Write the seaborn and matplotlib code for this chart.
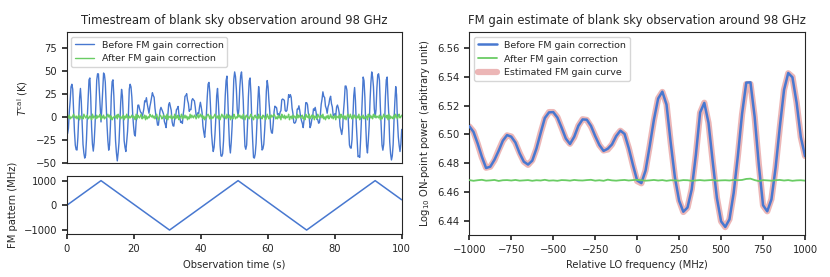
import numpy as np
import matplotlib
matplotlib.use("Agg")
import matplotlib.pyplot as plt
import seaborn as sns

# relative LO frequency grid of the gain curve (MHz)
FREQ_STEP_MHZ = 25
GRID_FREQ_MHZ = list(range(-1000, 1001, FREQ_STEP_MHZ))

# estimated FM gain curve, log10 ON-point power, read at every 25 MHz
GAIN_LOG10 = [
    6.5055, 6.5020, 6.4935, 6.4840, 6.4768, 6.4775, 6.4820, 6.4890, 6.4955, 6.4993,
    6.4985, 6.4940, 6.4870, 6.4810, 6.4788, 6.4820, 6.4900, 6.5010, 6.5110, 6.5155,
    6.5155, 6.5120, 6.5045, 6.4970, 6.4935, 6.4980, 6.5060, 6.5105, 6.5100, 6.5055,
    6.4990, 6.4925, 6.4888, 6.4895, 6.4930, 6.4990, 6.5025, 6.5000, 6.4905, 6.4785,
    6.4675, 6.4660, 6.4750, 6.4920, 6.5100, 6.5250, 6.5295, 6.5210, 6.4940, 6.4700,
    6.4540, 6.4460, 6.4490, 6.4620, 6.4860, 6.5150, 6.5220, 6.5080, 6.4810, 6.4560,
    6.4395, 6.4355, 6.4410, 6.4590, 6.4850, 6.5140, 6.5350, 6.5350, 6.5120, 6.4790,
    6.4505, 6.4465, 6.4550, 6.4770, 6.5050, 6.5310, 6.5425, 6.5400, 6.5220, 6.4980,
    6.4850,
]

# residual after correction (units of 1e-4 in log10 power), same grid
AFTER_RESID_1E4 = [
    2, -3, 1, 4, -2, 0, 3, -4, 1, 2,
    -1, 3, -2, 0, 2, -3, 1, -1, 4, -2,
    0, -3, 2, 1, -2, 3, 0, -1, 2, 4,
    -2, 1, -3, 5, 0, -2, 1, 3, -1, 2,
    4, 1, -2, 0, 3, -1, 2, -3, 1, 0,
    -2, 2, 1, -3, 0, 2, -1, 1, 3, -2,
    0, 1, -1, 3, 1, 3, 10, 12, 2, -5,
    2, 0, -2, 1, 3, -1, 2, -3, 0, 1,
    -2,
]
AFTER_LEVEL = 6.468

# FM sweep turning points (MHz) over the observation
FM_TURNS_MHZ = [0, 1000, -1000, 1000, -1000, 1000, 225]
OBS_DURATION_S = 100

# conversion of log10 power to calibrated temperature
K_PER_DEX = 870.0
V_ZERO = 6.4877

# timestream noise, one digit per sample, (d - 4) K
TS_NOISE_DIGITS = "".join([
    "4536243" "5743524" "6153427" "5346235" "4173542" "6354715" "3624357" "4625134",
    "5362745" "2436153" "7425346" "3541726" "4357243" "6152437" "5463524" "7314652",
    "3645271" "5436243" "7253614" "4725363" "5142736" "4365247" "3574625" "1436752",
    "6243574" "3526147" "5364273" "4615327" "5243746" "3527415" "6342573" "4156342",
    "7354264" "5137426" "3645752" "4263517" "4362534" "7145263" "5427364" "3562417",
    "4537246" "3615427" "5346372" "4153624" "7352461" "5436274" "3625147" "5374263",
    "6425371" "4536243" "5174635" "2746354" "3615247" "4536172" "5342637" "4257346",
])

sns.set_theme(style="ticks", palette="muted")
plt.rcParams.update({
    "font.family": ["DejaVu Sans"],
    "font.size": 7.2,
    "axes.titlesize": 8.4,
    "axes.labelsize": 7.2,
    "xtick.labelsize": 7.2,
    "ytick.labelsize": 7.2,
    "legend.fontsize": 6.8,
    "xtick.major.size": 3.5,
    "ytick.major.size": 3.5,
    "axes.linewidth": 0.8,
})
blue, green, red = "#4878d0", "#6acc64", "#d65f5f"

# walk the FM sweep over the frequency grid
sweep = [FM_TURNS_MHZ[0]]
for a, b in zip(FM_TURNS_MHZ[:-1], FM_TURNS_MHZ[1:]):
    step = FREQ_STEP_MHZ if b > a else -FREQ_STEP_MHZ
    sweep += list(range(a + step, b + step, step))
sweep = np.array(sweep)
idx = (sweep - GRID_FREQ_MHZ[0]) // FREQ_STEP_MHZ
t = np.linspace(0, OBS_DURATION_S, len(sweep))

gain = np.array(GAIN_LOG10)
resid = np.array(AFTER_RESID_1E4) * 1e-4
noise = np.array([int(c) - 4 for c in TS_NOISE_DIGITS[:len(sweep)]], dtype=float)
ts_before = K_PER_DEX * (gain[idx] - V_ZERO) + noise
ts_after = noise

fig = plt.figure(figsize=(8.3, 2.77), dpi=100)
ax_ts = fig.add_axes([0.0804, 0.4105, 0.4036, 0.473])
ax_fm = fig.add_axes([0.0804, 0.1552, 0.4036, 0.2105], sharex=ax_ts)
ax_g = fig.add_axes([0.5654, 0.1516, 0.4045, 0.7318])

sns.lineplot(x=t, y=ts_before, ax=ax_ts, color=blue, lw=1.0, label="Before FM gain correction")
sns.lineplot(x=t, y=ts_after, ax=ax_ts, color=green, lw=1.0, label="After FM gain correction")
ax_ts.set_ylim(-50, 91.5)
ax_ts.set_yticks([-50, -25, 0, 25, 50, 75])
ax_ts.set_ylabel(r"$T^{\rm cal}$ (K)")
ax_ts.set_title("Timestream of blank sky observation around 98 GHz")
ax_ts.tick_params(axis="x", bottom=False, labelbottom=False)
ax_ts.legend(loc="upper left")

sns.lineplot(x=t, y=sweep, ax=ax_fm, color=blue, lw=1.1)
ax_fm.set_xlim(0, 100)
ax_fm.set_ylim(-1160, 1200)
ax_fm.set_yticks([-1000, 0, 1000])
ax_fm.set_xlabel("Observation time (s)")
ax_fm.set_ylabel("FM pattern (MHz)")

freq = np.array(GRID_FREQ_MHZ)
sns.lineplot(x=freq, y=gain + resid, ax=ax_g, color=blue, lw=1.8, zorder=3,
             label="Before FM gain correction")
sns.lineplot(x=freq, y=AFTER_LEVEL + resid, ax=ax_g, color=green, lw=1.3, zorder=4,
             label="After FM gain correction")
sns.lineplot(x=freq, y=gain, ax=ax_g, color=red, lw=4.5, alpha=0.45, zorder=2,
             label="Estimated FM gain curve")
ax_g.set_xlim(-1000, 1000)
ax_g.set_xticks([-1000, -750, -500, -250, 0, 250, 500, 750, 1000])
ax_g.set_ylim(6.43, 6.571)
ax_g.set_yticks([6.44, 6.46, 6.48, 6.50, 6.52, 6.54, 6.56])
ax_g.set_xlabel("Relative LO frequency (MHz)")
ax_g.set_ylabel(r"Log$_{10}$ ON-point power (arbitrary unit)")
ax_g.set_title("FM gain estimate of blank sky observation around 98 GHz")
ax_g.legend(loc="upper left")

fig.align_ylabels([ax_ts, ax_fm])
fig.savefig("out.png", dpi=100)
